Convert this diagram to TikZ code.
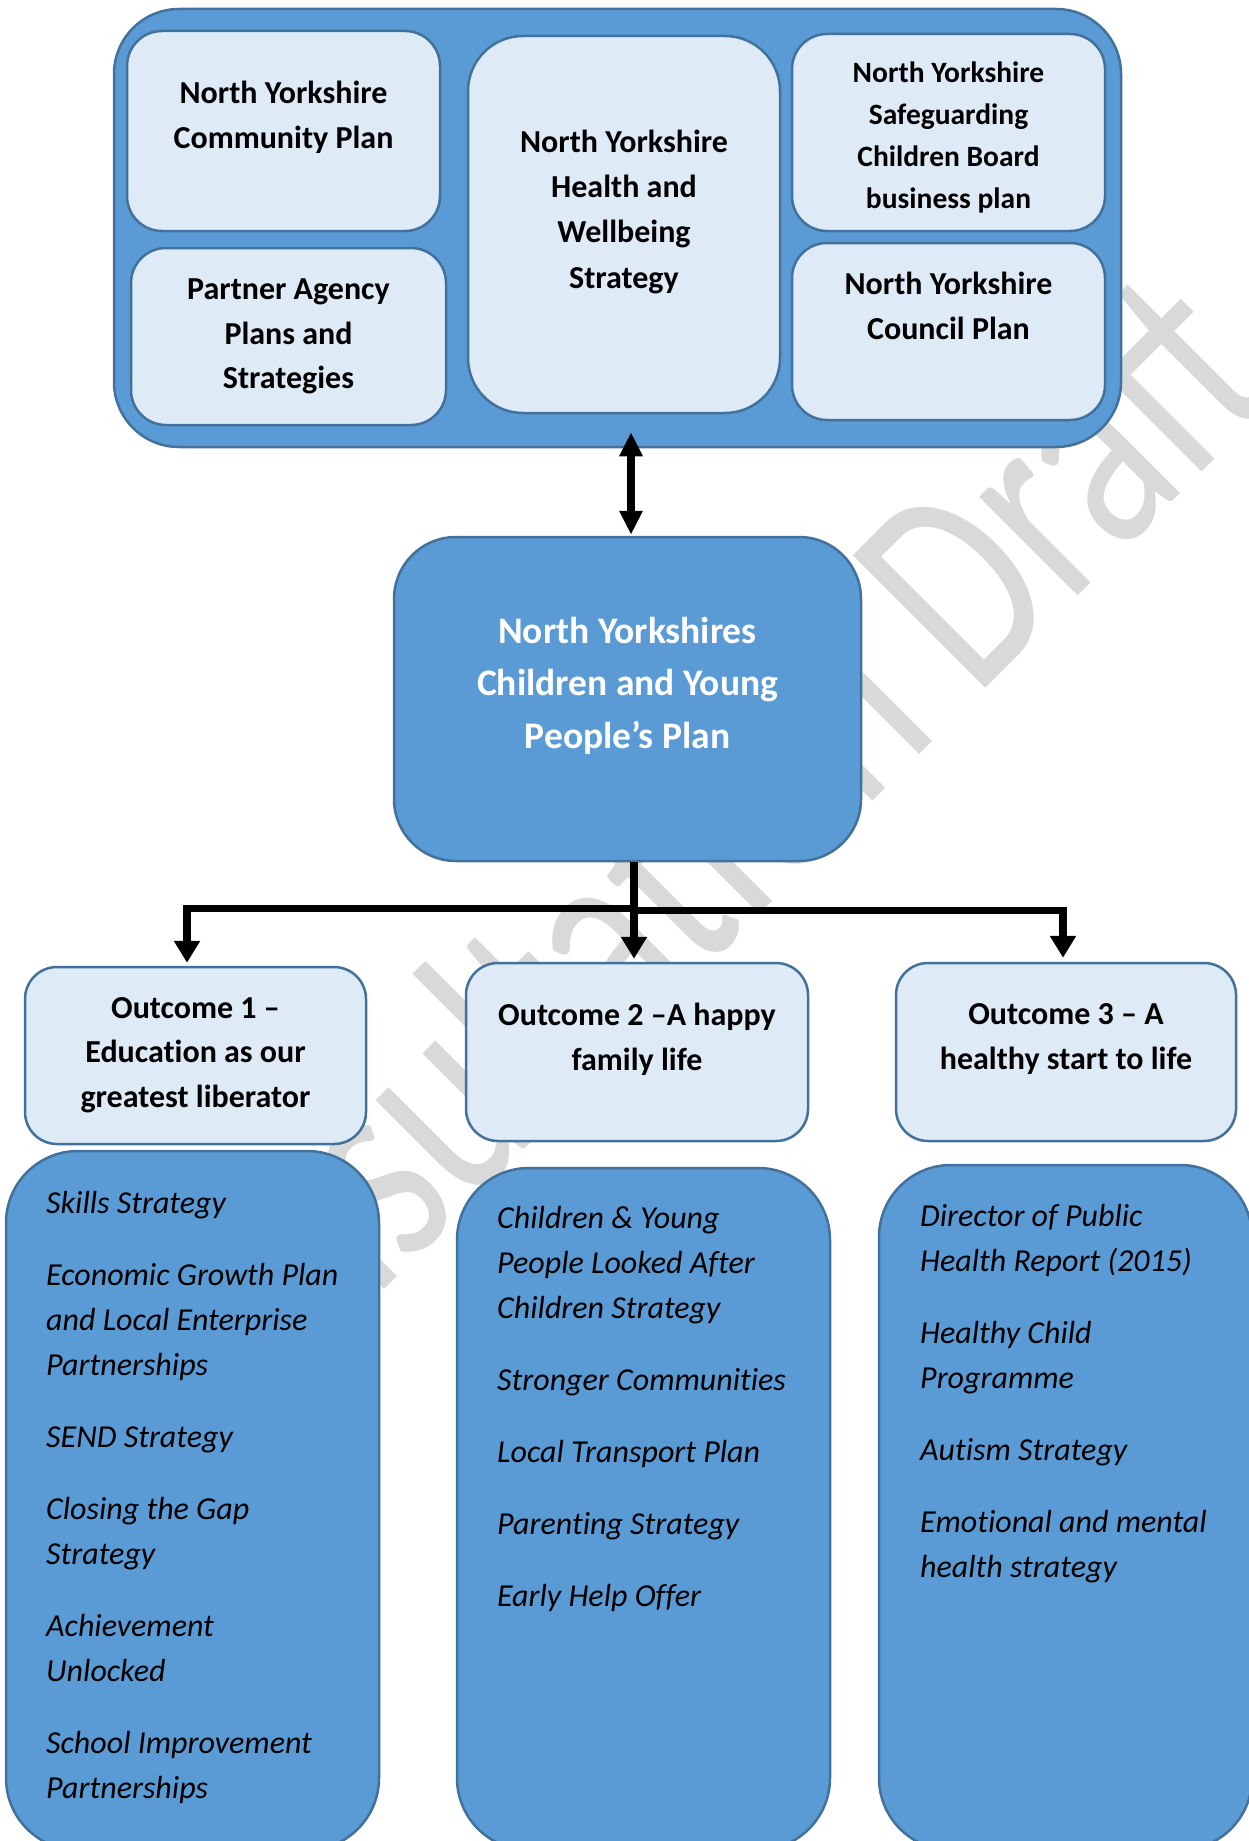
\documentclass[tikz,border=0pt]{standalone}
\usepackage{fontspec}
\setmainfont{Carlito}[Ligatures=NoCommon]
\newfontfamily\wmfont{Carlito}
\usetikzlibrary{arrows.meta}
\definecolor{boxblue}{HTML}{5B9BD5}
\definecolor{edgeblue}{HTML}{41719C}
\definecolor{lightblue}{HTML}{DEEBF7}
\definecolor{wmgray}{HTML}{D9D9D9}
\tikzset{
  shapebox/.style={draw=edgeblue, line width=2.5pt, rectangle, inner sep=0pt},
  bluebox/.style={shapebox, fill=boxblue},
  lightbox/.style={shapebox, fill=lightblue},
  titletext/.style={font=\bfseries\fontsize{32}{45}\selectfont, align=center, inner sep=0pt, anchor=north, execute at begin node=\strut},
  listtext/.style={font=\itshape\fontsize{32}{45}\selectfont, align=left, inner sep=0pt, anchor=north west, execute at begin node=\strut},
  conn/.style={line width=7.5pt, -{Triangle[width=25pt,length=22pt]}},
  dblconn/.style={line width=7.5pt, {Triangle[width=22pt,length=24pt]}-{Triangle[width=22pt,length=24pt]}},
  watermark/.style={font=\wmfont\fontsize{292}{292}\selectfont, text=wmgray, inner sep=0pt}
}
\begin{document}
\begin{tikzpicture}[x=1pt,y=-1pt]
\useasboundingbox (0,0) rectangle (1248,1841);
\fill[white] (0,0) rectangle (1248,1841);
% watermark
\node[watermark, rotate=45, xscale=0.73, anchor=base west] (wmark) at (168,1506) {Consultation Draft};
% top container
\node[bluebox, rounded corners=65pt, minimum width=1007pt, minimum height=438pt] (outer) at (617.5,228) {};
\node[lightbox, rounded corners=35pt, minimum width=313pt, minimum height=200pt] (comm) at (283.5,131) {};
\node[lightbox, rounded corners=35pt, minimum width=315pt, minimum height=177pt] (partner) at (288.5,336.5) {};
\node[lightbox, rounded corners=55pt, minimum width=312pt, minimum height=377pt] (health) at (624,224.5) {};
\node[lightbox, rounded corners=35pt, minimum width=313pt, minimum height=197pt] (safe) at (948.5,132.5) {};
\node[lightbox, rounded corners=35pt, minimum width=313pt, minimum height=177pt] (council) at (948.5,331.5) {};
\node[titletext] (commtxt) at (283.5,81) {North Yorkshire\\Community Plan};
\node[titletext, font=\bfseries\fontsize{32}{44.5}\selectfont] (partnertxt) at (288.5,279) {Partner Agency\\Plans and\\Strategies};
\node[titletext, font=\bfseries\fontsize{32}{45.3}\selectfont] (healthtxt) at (624,129.5) {North Yorkshire\\Health and\\Wellbeing\\Strategy};
\node[titletext, font=\bfseries\fontsize{29.5}{41.8}\selectfont] (safetxt) at (948.5,61.8) {North Yorkshire\\Safeguarding\\Children Board\\business plan};
\node[titletext] (counciltxt) at (948.5,272) {North Yorkshire\\Council Plan};
% central
\node[bluebox, rounded corners=62pt, minimum width=467pt, minimum height=324pt] (cyp) at (627.5,699) {};
\node[titletext, font=\bfseries\fontsize{37.5}{52.3}\selectfont, text=white] (cyptxt) at (627.5,617) {North Yorkshires\\Children and Young\\People’s Plan};
% outcomes
\node[lightbox, rounded corners=32pt, minimum width=341pt, minimum height=177pt] (o1) at (195.5,1055.5) {};
\node[lightbox, rounded corners=32pt, minimum width=342pt, minimum height=178pt] (o2) at (637,1052) {};
\node[lightbox, rounded corners=32pt, minimum width=340pt, minimum height=178pt] (o3) at (1066,1052) {};
\node[titletext, font=\bfseries\fontsize{32}{44.8}\selectfont] (o1txt) at (195.5,997) {Outcome 1 –\\Education as our\\greatest liberator};
\node[titletext] (o2txt) at (637,1002.5) {Outcome 2 –A happy\\family life};
\node[titletext] (o3txt) at (1066,1003) {Outcome 3 – A\\healthy start to life};
% lists
\node[bluebox, rounded corners=72pt, minimum width=373pt, minimum height=699pt] (b1) at (192.5,1500.5) {};
\node[bluebox, rounded corners=72pt, minimum width=373pt, minimum height=682pt] (b2) at (643.5,1509) {};
\node[bluebox, rounded corners=72pt, minimum width=373pt, minimum height=685pt] (b3) at (1065.5,1507.5) {};
\node[listtext] (b1txt) at (46,1191) {Skills Strategy\\[27pt]Economic Growth Plan\\and Local Enterprise\\Partnerships\\[27pt]SEND Strategy\\[27pt]Closing the Gap\\Strategy\\[27pt]Achievement\\Unlocked\\[27pt]School Improvement\\Partnerships};
\node[listtext] (b2txt) at (497,1206) {Children \& Young\\People Looked After\\Children Strategy\\[27pt]Stronger Communities\\[27pt]Local Transport Plan\\[27pt]Parenting Strategy\\[27pt]Early Help Offer};
\node[listtext] (b3txt) at (920,1204.5) {Director of Public\\Health Report (2015)\\[27pt]Healthy Child\\Programme\\[27pt]Autism Strategy\\[27pt]Emotional and mental\\health strategy};
% connectors
\draw[dblconn] ([xshift=3.5pt,yshift=1pt]cyp.north) -- ([xshift=13.5pt,yshift=16pt]outer.south);
\draw[conn] ([xshift=6.5pt]cyp.south) -- ([xshift=-3pt,yshift=3pt]o2.north);
\draw[conn] ([xshift=6.5pt]cyp.south) -- ++(0,46) -| ([xshift=-8.5pt,yshift=3pt]o1.north);
\draw[conn] ([xshift=6.5pt]cyp.south) -- ++(0,48) -| ([xshift=-3pt,yshift=4pt]o3.north);
\end{tikzpicture}
\end{document}
